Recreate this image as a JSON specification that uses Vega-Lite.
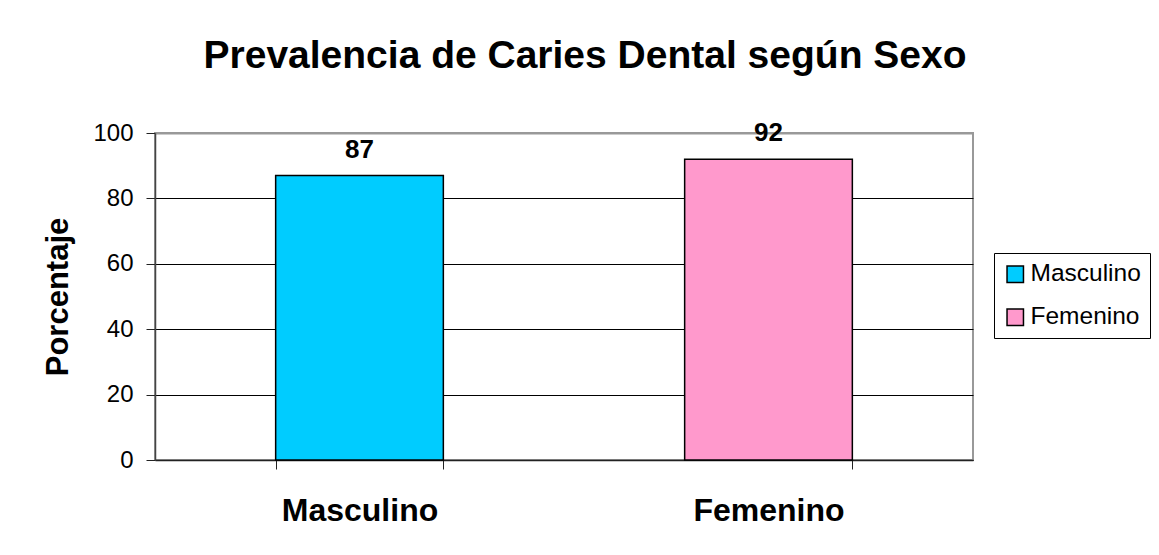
{
  "$schema": "https://vega.github.io/schema/vega-lite/v6.json",
  "autosize": {"type": "none"},
  "width": 818,
  "height": 327,
  "padding": {"left": 155, "top": 133, "right": 186, "bottom": 95},
  "background": "white",
  "title": {
    "text": "Prevalencia de Caries Dental según Sexo",
    "font": "Liberation Sans",
    "fontSize": 39,
    "fontWeight": "bold",
    "color": "black",
    "anchor": "middle",
    "frame": "group",
    "dx": 21,
    "offset": 44
  },
  "data": {
    "values": [
      {"sexo": "Masculino", "porcentaje": 87},
      {"sexo": "Femenino", "porcentaje": 92}
    ]
  },
  "encoding": {
    "x": {
      "field": "sexo",
      "type": "nominal",
      "sort": null,
      "scale": {"paddingInner": 0.59, "paddingOuter": 0.295},
      "axis": {
        "title": null,
        "labelAngle": 0,
        "labelFont": "Liberation Sans",
        "labelFontSize": 32,
        "labelFontWeight": "bold",
        "labelColor": "black",
        "labelPadding": 26,
        "tickBand": "extent",
        "tickSize": 9,
        "tickColor": "#222",
        "domainColor": "#222",
        "domainWidth": 1.5,
        "grid": false
      }
    },
    "y": {
      "field": "porcentaje",
      "type": "quantitative",
      "scale": {"domain": [0, 100], "nice": false},
      "axis": {
        "title": "Porcentaje",
        "titleFont": "Liberation Sans",
        "titleFontSize": 31,
        "titleFontWeight": "bold",
        "titleColor": "black",
        "titlePadding": 18,
        "values": [0, 20, 40, 60, 80, 100],
        "labelFont": "Liberation Sans",
        "labelFontSize": 24,
        "labelColor": "black",
        "labelPadding": 13,
        "tickSize": 9,
        "tickColor": "#222",
        "domainColor": "#444",
        "domainWidth": 1.5,
        "grid": true,
        "gridColor": {"condition": {"test": "datum.value == 100", "value": "#999999"}, "value": "black"},
        "gridWidth": {"condition": {"test": "datum.value == 100", "value": 2}, "value": 1},
        "gridOpacity": 1
      }
    }
  },
  "layer": [
    {
      "mark": {"type": "bar", "stroke": "black", "strokeWidth": 1.5},
      "encoding": {
        "color": {
          "field": "sexo",
          "type": "nominal",
          "scale": {"domain": ["Masculino", "Femenino"], "range": ["#00CCFF", "#FF99CC"]},
          "legend": {
            "title": null,
            "orient": "none",
            "legendX": 839,
            "legendY": 120,
            "symbolType": "square",
            "symbolSize": 270,
            "symbolStrokeColor": "black",
            "symbolStrokeWidth": 1.5,
            "symbolOpacity": 1,
            "labelFont": "Liberation Sans",
            "labelFontSize": 24.5,
            "labelColor": "black",
            "labelOffset": 3,
            "rowPadding": 18,
            "padding": 9,
            "strokeColor": "black",
            "fillColor": "white"
          }
        }
      }
    },
    {
      "mark": {
        "type": "text",
        "font": "Liberation Sans",
        "fontSize": 26,
        "fontWeight": "bold",
        "color": "black",
        "baseline": "alphabetic",
        "dy": -18
      },
      "encoding": {
        "text": {"field": "porcentaje", "type": "quantitative"}
      }
    }
  ],
  "config": {
    "view": {"stroke": "#999999", "strokeWidth": 2}
  }
}
